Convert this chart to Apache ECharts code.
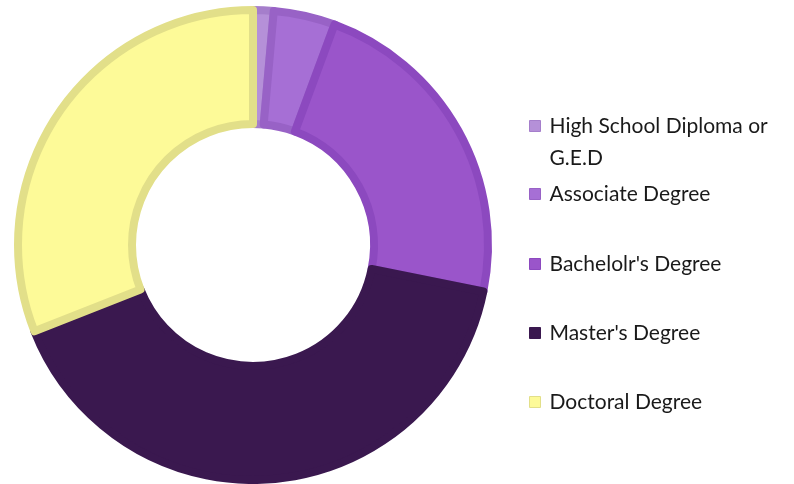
<!DOCTYPE html>
<html>
<head>
<meta charset="utf-8">
<script src="https://cdn.jsdelivr.net/npm/echarts@6/dist/echarts.min.js"></script>
<style>html,body{margin:0;padding:0;background:#fff;}#c{width:794px;height:484px;}</style>
</head>
<body>
<div id="c"></div>
<script>
const categories = ["High School Diploma or G.E.D", "Associate Degree", "Bachelolr's Degree", "Master's Degree", "Doctoral Degree"];
const legendLabels = ["\nHigh School Diploma or\nG.E.D", "Associate Degree", "Bachelolr's Degree", "Master's Degree", "Doctoral Degree"];
const values = [1, 3, 16, 29, 22];
const fillColors = ["#b590d8", "#a66fd5", "#9a55ca", "#3a184f", "#fdfa98"];
const borderColors = ["#a57ecb", "#9862c6", "#8c49bf", "#3a184f", "#e2df89"];
const legendTops = [73, 173, 243, 312, 381];

const chart = echarts.init(document.getElementById('c'), null, {renderer: 'canvas'});
const data = categories.map((n, i) => ({
  name: n, value: values[i],
  itemStyle: {color: fillColors[i], borderColor: borderColors[i], borderWidth: 8}
}));
const legends = categories.map((n, i) => ({
  data: [n],
  orient: 'vertical',
  left: 524,
  top: legendTops[i],
  icon: 'rect',
  itemWidth: 11,
  itemHeight: 11,
  itemGap: 0,
  selectedMode: false,
  formatter: () => legendLabels[i],
  itemStyle: {borderWidth: 1},
  textStyle: {
    fontFamily: 'Lato', fontSize: 21, color: '#1a1a1a', lineHeight: 32,
    padding: [0, 0, 0, 4]
  }
}));
chart.setOption({
  animation: false,
  legend: legends,
  series: [{
    type: 'pie',
    center: [253, 245],
    radius: [121, 235],
    startAngle: 90,
    clockwise: true,
    label: {show: false},
    labelLine: {show: false},
    emphasis: {disabled: true},
    data: data
  }]
});
</script>
</body>
</html>
